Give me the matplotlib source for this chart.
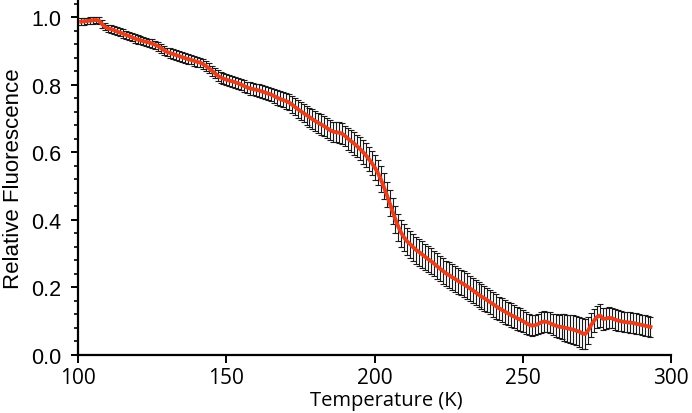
import numpy as np
import matplotlib
matplotlib.use('Agg')
import matplotlib.pyplot as plt
from matplotlib.ticker import MultipleLocator

# temperature in K, one reading per kelvin
temps = np.arange(101, 294)

fluor = [
    0.987, 0.988, 0.989, 0.990, 0.991, 0.992, 0.990, 0.980, 0.972, 0.967,
    0.965, 0.962, 0.958, 0.955, 0.952, 0.948, 0.945, 0.941, 0.937, 0.934,
    0.932, 0.929, 0.927, 0.925, 0.922, 0.918, 0.914, 0.908, 0.902, 0.897,
    0.894, 0.891, 0.888, 0.885, 0.882, 0.879, 0.876, 0.874, 0.871, 0.868,
    0.866, 0.862, 0.856, 0.849, 0.842, 0.835, 0.827, 0.822, 0.818, 0.815,
    0.812, 0.810, 0.807, 0.804, 0.800, 0.796, 0.792, 0.789, 0.787, 0.785,
    0.783, 0.780, 0.777, 0.774, 0.771, 0.767, 0.762, 0.758, 0.755, 0.752,
    0.748, 0.742, 0.735, 0.728, 0.722, 0.716, 0.710, 0.704, 0.698, 0.692,
    0.687, 0.682, 0.677, 0.671, 0.665, 0.661, 0.659, 0.658, 0.655, 0.648,
    0.640, 0.633, 0.626, 0.618, 0.610, 0.601, 0.591, 0.580, 0.568, 0.555,
    0.540, 0.521, 0.499, 0.475, 0.450, 0.425, 0.400, 0.378, 0.360, 0.346,
    0.335, 0.327, 0.318, 0.310, 0.304, 0.297, 0.290, 0.283, 0.277, 0.270,
    0.262, 0.255, 0.248, 0.241, 0.236, 0.230, 0.225, 0.219, 0.214, 0.209,
    0.203, 0.197, 0.191, 0.185, 0.178, 0.172, 0.167, 0.161, 0.155, 0.149,
    0.143, 0.137, 0.132, 0.127, 0.122, 0.117, 0.113, 0.108, 0.104, 0.099,
    0.094, 0.089, 0.086, 0.087, 0.090, 0.095, 0.098, 0.097, 0.094, 0.089,
    0.086, 0.083, 0.082, 0.080, 0.078, 0.076, 0.074, 0.071, 0.068, 0.063,
    0.061, 0.072, 0.088, 0.101, 0.112, 0.116, 0.106, 0.107, 0.109, 0.108,
    0.104, 0.101, 0.099, 0.097, 0.096, 0.095, 0.094, 0.092, 0.090, 0.088,
    0.086, 0.084, 0.082,
]

err = [
    0.010, 0.010, 0.010, 0.010, 0.010, 0.010, 0.010, 0.011, 0.011, 0.011,
    0.012, 0.012, 0.012, 0.012, 0.012, 0.012, 0.012, 0.012, 0.012, 0.012,
    0.012, 0.012, 0.012, 0.012, 0.013, 0.013, 0.013, 0.013, 0.013, 0.013,
    0.014, 0.014, 0.014, 0.014, 0.014, 0.014, 0.014, 0.014, 0.014, 0.014,
    0.014, 0.014, 0.015, 0.015, 0.015, 0.016, 0.016, 0.016, 0.016, 0.016,
    0.016, 0.016, 0.016, 0.017, 0.017, 0.017, 0.017, 0.018, 0.018, 0.018,
    0.019, 0.019, 0.020, 0.020, 0.020, 0.021, 0.021, 0.022, 0.022, 0.023,
    0.024, 0.025, 0.026, 0.026, 0.027, 0.027, 0.028, 0.028, 0.029, 0.029,
    0.030, 0.030, 0.030, 0.030, 0.030, 0.030, 0.030, 0.031, 0.031, 0.031,
    0.032, 0.032, 0.033, 0.033, 0.034, 0.035, 0.035, 0.036, 0.036, 0.037,
    0.037, 0.038, 0.038, 0.038, 0.039, 0.039, 0.040, 0.040, 0.040, 0.040,
    0.040, 0.040, 0.040, 0.040, 0.040, 0.039, 0.039, 0.039, 0.039, 0.038,
    0.038, 0.038, 0.038, 0.038, 0.038, 0.038, 0.038, 0.038, 0.038, 0.038,
    0.038, 0.037, 0.037, 0.037, 0.037, 0.037, 0.037, 0.036, 0.036, 0.036,
    0.036, 0.035, 0.035, 0.035, 0.035, 0.035, 0.034, 0.034, 0.034, 0.033,
    0.032, 0.031, 0.030, 0.030, 0.030, 0.030, 0.030, 0.030, 0.031, 0.032,
    0.033, 0.035, 0.037, 0.039, 0.040, 0.041, 0.042, 0.043, 0.044, 0.045,
    0.044, 0.040, 0.036, 0.034, 0.033, 0.033, 0.032, 0.031, 0.031, 0.030,
    0.030, 0.030, 0.030, 0.030, 0.030, 0.030, 0.030, 0.030, 0.030, 0.030,
    0.030, 0.030, 0.030,
]

fig = plt.figure(figsize=(6.92, 4.14), dpi=100)
ax = fig.add_axes([0.113, 0.141, 0.857, 0.854])

ax.errorbar(temps, fluor, yerr=err, fmt='none', ecolor='#1a1a1a',
            elinewidth=0.8, capsize=2.5, capthick=0.8, zorder=2)
ax.plot(temps, fluor, color='#e8401f', lw=2.8, zorder=3)

ax.set_xlim(100, 300)
ax.set_ylim(0, 1.048)
ax.set_xticks([100, 150, 200, 250, 300])
ax.set_yticks([0.0, 0.2, 0.4, 0.6, 0.8, 1.0])
ax.yaxis.set_major_formatter(lambda v, pos: f'{v:.1f}')
ax.yaxis.set_minor_locator(MultipleLocator(0.04))

for side in ['top', 'right']:
    ax.spines[side].set_visible(False)
for side in ['left', 'bottom']:
    ax.spines[side].set_linewidth(1.6)

ax.tick_params(axis='y', which='major', length=5, width=1.4, pad=7,
               labelsize=15.5, labelfontfamily='Liberation Sans')
ax.tick_params(axis='y', which='minor', length=3, width=1.2)
ax.tick_params(axis='x', which='major', length=6, width=1.4, pad=3,
               labelsize=15, labelfontfamily='Open Sans')

ax.set_xlabel('Temperature (K)', fontfamily='Open Sans', fontsize=14.5)
ax.xaxis.set_label_coords(0.52, -0.10)
ax.set_ylabel('Relative Fluorescence', fontfamily='Liberation Sans',
              fontsize=16)
ax.yaxis.set_label_coords(-0.092, 0.5)

fig.savefig('out.png', dpi=100)
